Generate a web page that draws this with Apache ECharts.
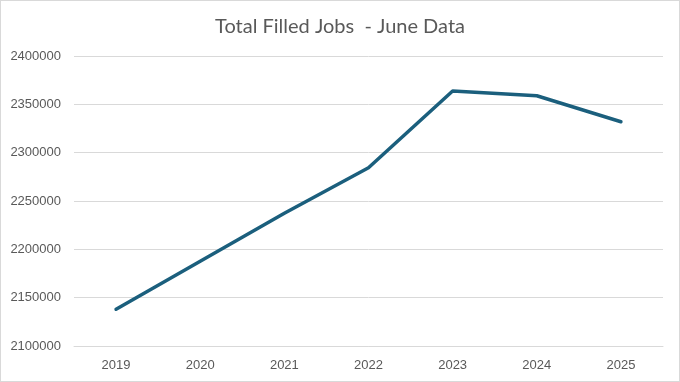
<!DOCTYPE html>
<html>
<head>
<meta charset="utf-8">
<script src="https://cdn.jsdelivr.net/npm/echarts@6/dist/echarts.min.js"></script>
<style>
html,body{margin:0;padding:0;background:#fff;}
#c{width:678px;height:380px;border:1px solid #d9d9d9;}
</style>
</head>
<body>
<div id="c"></div>
<script>
var categories = ['2019','2020','2021','2022','2023','2024','2025'];
var jobs = [2138000, 2187700, 2237400, 2284400, 2363800, 2358900, 2332000];
var yMin = 2100000, yMax = 2400000, yStep = 50000;

var chart = echarts.init(document.getElementById('c'));
chart.setOption({
  animation: false,
  title: {
    text: 'Total Filled Jobs  - June Data',
    left: 'center',
    top: 11,
    textStyle: {fontFamily: 'Lato', fontSize: 20, fontWeight: 'normal', color: '#595959'}
  },
  grid: {left: 73, right: 16, top: 55, bottom: 35},
  xAxis: {
    type: 'category',
    data: categories,
    boundaryGap: true,
    axisLine: {show: true, lineStyle: {color: '#d9d9d9'}},
    axisTick: {show: false},
    axisLabel: {color: '#595959', fontSize: 13, fontFamily: 'Liberation Sans', margin: 13}
  },
  yAxis: {
    type: 'value',
    min: yMin, max: yMax, interval: yStep,
    axisLine: {show: false},
    axisTick: {show: false},
    splitLine: {lineStyle: {color: '#d9d9d9'}},
    axisLabel: {color: '#595959', fontSize: 13, fontFamily: 'Liberation Sans', margin: 13,
      formatter: function (v) { return String(v); }}
  },
  series: [{
    type: 'line',
    data: jobs,
    symbol: 'none',
    lineStyle: {color: '#1b5f7d', width: 3.5, cap: 'round', join: 'round'}
  }]
});
</script>
</body>
</html>
